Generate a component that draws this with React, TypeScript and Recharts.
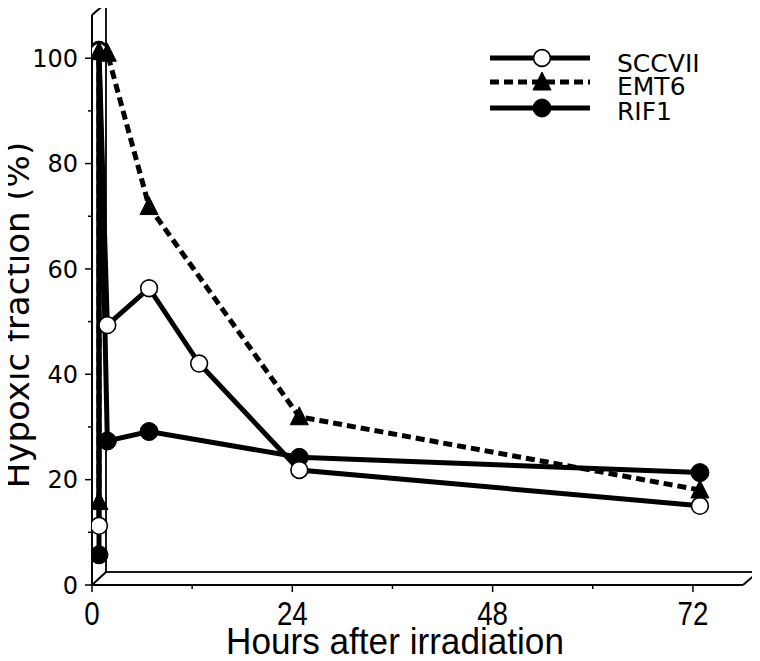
import React from 'react';
import { LineChart, Line, XAxis, YAxis, Customized } from 'recharts';

// ---- data ----
const sccviiHours = [0, 0, 1, 6, 12, 24, 72];
const sccviiValues = [10.0, 100, 48.1, 55.1, 40.8, 20.6, 13.8];
const emt6Hours = [0, 0, 1, 6, 24, 72];
const emt6Values = [14.6, 100, 99.7, 70.6, 30.7, 16.8];
const rif1Hours = [0, 0, 1, 6, 24, 72];
const rif1Values = [4.5, 100.3, 26.1, 27.9, 23.0, 20.1];

const xTicks = [0, 12, 24, 36, 48, 60, 72];
const yTicks = [0, 10, 20, 30, 40, 50, 60, 70, 80, 90, 100];
const seriesNames = ['SCCVII', 'EMT6', 'RIF1'];

const toRows = (hours: number[], values: number[]) => hours.map((h, i) => ({ h, v: values[i] }));
const sccviiData = toRows(sccviiHours, sccviiValues);
const emt6Data = toRows(emt6Hours, emt6Values);
const rif1Data = toRows(rif1Hours, rif1Values);

// ---- layout (svg coordinates; svg sits at page 8,8) ----
const W = 752;
const H = 653;
const PLOT_LEFT = 84;
const PLOT_TOP = 7;
const PLOT_RIGHT = 735;
const PLOT_BOTTOM = 577;
const DX = 14; // depth offset of back plane
const DY = 13;
const X_MAX = 78;
const Y_MAX = 108.2;
const pxPerHour = (PLOT_RIGHT - PLOT_LEFT) / X_MAX;
const pxPerUnit = (PLOT_BOTTOM - PLOT_TOP) / Y_MAX;
// data drawn on the middle plane of the box
const xShift = (DX / 2) / pxPerHour;
const yShift = (DY / 2) / pxPerUnit;

const FONT_SANS = '"DejaVu Sans", Verdana, sans-serif';
const FONT_NARROW = '"Liberation Sans", Arial, Helvetica, sans-serif';

const OpenCircle = (props: any) => {
  const { cx, cy } = props;
  if (cx == null || cy == null) return null;
  return <circle cx={cx} cy={cy} r={8.4} fill="#fff" stroke="#000" strokeWidth={1.6} />;
};
const FilledCircle = (props: any) => {
  const { cx, cy } = props;
  if (cx == null || cy == null) return null;
  return <circle cx={cx} cy={cy} r={9} fill="#000" stroke="#000" strokeWidth={1} />;
};
const Triangle = (props: any) => {
  const { cx, cy } = props;
  if (cx == null || cy == null) return null;
  return (
    <path
      d={`M${cx},${cy - 10} L${cx + 9},${cy + 8} L${cx - 9},${cy + 8} Z`}
      fill="#000"
      stroke="#000"
      strokeWidth={1}
    />
  );
};

const YTick = (props: any) => {
  const { y, payload } = props;
  const x = PLOT_LEFT;
  const v = payload.value;
  const major = v % 20 === 0;
  return (
    <g>
      <line x1={x - (major ? 7 : 4)} x2={x} y1={y} y2={y} stroke="#000" strokeWidth={1.5} />
      {major && (
        <text x={x - 14} y={y} dy={8.6} textAnchor="end" fontFamily={FONT_SANS} fontSize={24} fill="#000">
          {v}
        </text>
      )}
    </g>
  );
};

const XTick = (props: any) => {
  const { x, payload } = props;
  const y = PLOT_BOTTOM;
  const v = payload.value;
  const major = v % 24 === 0;
  return (
    <g>
      <line x1={x} x2={x} y1={y} y2={y + (major ? 7 : 4)} stroke="#000" strokeWidth={1.5} />
      {major && (
        <g transform={`translate(${x}, ${y + 40}) scale(0.84, 1)`}>
          <text x={0} y={0} textAnchor="middle" fontFamily={FONT_NARROW} fontSize={33} fill="#000">
            {v}
          </text>
        </g>
      )}
    </g>
  );
};

const Frame = () => {
  const bl = PLOT_LEFT + DX;
  const bt = PLOT_TOP - DY + 1;
  const br = PLOT_RIGHT + DX;
  const bb = PLOT_BOTTOM - DY;
  const s = { stroke: '#000', strokeWidth: 2, fill: 'none' } as const;
  return (
    <g>
      <rect x={bl} y={bt} width={br - bl} height={bb - bt} fill="#fff" stroke="#000" strokeWidth={1.8} />
      <line x1={PLOT_LEFT} y1={PLOT_TOP} x2={PLOT_LEFT} y2={PLOT_BOTTOM} {...s} />
      <line x1={PLOT_LEFT} y1={PLOT_BOTTOM} x2={PLOT_RIGHT} y2={PLOT_BOTTOM} {...s} />
      <line x1={PLOT_LEFT} y1={PLOT_TOP} x2={bl} y2={bt} {...s} />
      <line x1={PLOT_LEFT} y1={PLOT_BOTTOM} x2={bl} y2={bb} {...s} />
      <line x1={PLOT_RIGHT} y1={PLOT_BOTTOM} x2={br} y2={bb + 1} {...s} />
    </g>
  );
};

const Titles = () => (
  <g>
    <text
      transform={`translate(21, 307) rotate(-90)`}
      textAnchor="middle"
      fontFamily={FONT_SANS}
      fontSize={34}
      fill="#000"
    >
      Hypoxic fraction (%)
    </text>
    <g transform={`translate(387, 646) scale(0.95, 1)`}>
      <text x={0} y={0} textAnchor="middle" fontFamily={FONT_NARROW} fontSize={37} fill="#000">
        Hours after irradiation
      </text>
    </g>
  </g>
);

const LegendBox = () => {
  const x1 = 482;
  const x2 = 582;
  const mx = 534;
  const rows = [50, 74, 100];
  const tx = 609;
  return (
    <g>
      <line x1={x1} x2={x2} y1={rows[0]} y2={rows[0]} stroke="#000" strokeWidth={5} />
      <OpenCircle cx={mx} cy={rows[0]} />
      <line x1={x1} x2={x2} y1={rows[1]} y2={rows[1]} stroke="#000" strokeWidth={5} strokeDasharray="9 5" />
      <Triangle cx={mx} cy={rows[1]} />
      <line x1={x1} x2={x2} y1={rows[2]} y2={rows[2]} stroke="#000" strokeWidth={5} />
      <FilledCircle cx={mx} cy={rows[2]} />
      {seriesNames.map((n, i) => (
        <text key={n} x={tx} y={[63.5, 87, 112][i]} fontFamily={FONT_SANS} fontSize={25} fill="#000">
          {n}
        </text>
      ))}
    </g>
  );
};

export default function App() {
  return (
    <div style={{ width: W, height: H }}>
      <LineChart
        width={W}
        height={H}
        margin={{ top: PLOT_TOP, right: W - PLOT_RIGHT, bottom: 16, left: PLOT_LEFT - 60 }}
      >
        <Customized component={Frame} />
        <XAxis
          xAxisId="front"
          type="number"
          dataKey="h"
          domain={[0, X_MAX]}
          ticks={xTicks}
          interval={0}
          allowDataOverflow
          axisLine={false}
          tickLine={false}
          height={60}
          tick={<XTick />}
        />
        <XAxis
          xAxisId="data"
          type="number"
          dataKey="h"
          domain={[-xShift, X_MAX - xShift]}
          allowDataOverflow
          hide
        />
        <YAxis
          yAxisId="front"
          type="number"
          domain={[0, Y_MAX]}
          ticks={yTicks}
          interval={0}
          allowDataOverflow
          axisLine={false}
          tickLine={false}
          width={60}
          tick={<YTick />}
        />
        <YAxis
          yAxisId="data"
          type="number"
          domain={[-yShift, Y_MAX - yShift]}
          allowDataOverflow
          hide
        />
        <Line
          xAxisId="data"
          yAxisId="data"
          data={rif1Data}
          dataKey="v"
          stroke="#000"
          strokeWidth={5}
          dot={<FilledCircle />}
          isAnimationActive={false}
        />
        <Line
          xAxisId="data"
          yAxisId="data"
          data={sccviiData}
          dataKey="v"
          stroke="#000"
          strokeWidth={5}
          dot={<OpenCircle />}
          isAnimationActive={false}
        />
        <Line
          xAxisId="data"
          yAxisId="data"
          data={emt6Data}
          dataKey="v"
          stroke="#000"
          strokeWidth={5}
          strokeDasharray="9 5"
          dot={<Triangle />}
          isAnimationActive={false}
        />
        <Customized component={Titles} />
        <Customized component={LegendBox} />
      </LineChart>
    </div>
  );
}
